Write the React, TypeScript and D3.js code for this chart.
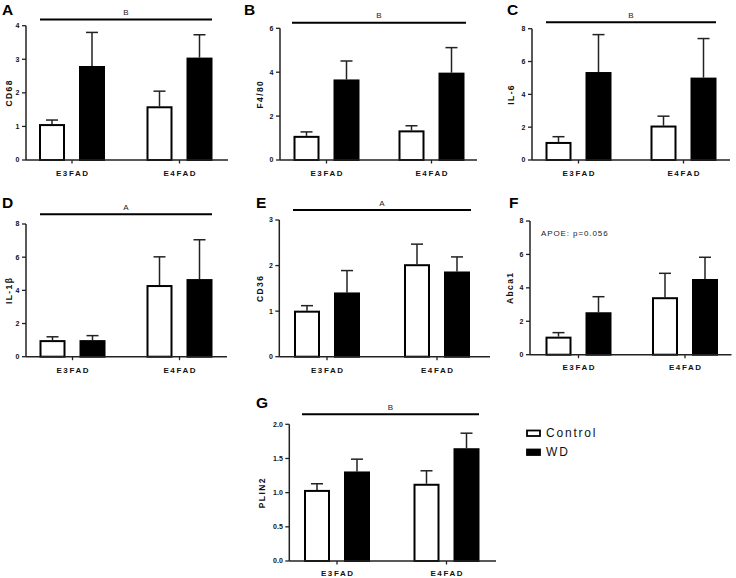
import React from "react";
import * as d3 from "d3";

const categories = ["E3FAD", "E4FAD"];
const groups = ["Control", "WD"];

// Panel A – CD68
const cd68Control = [1.07, 1.6];
const cd68ControlSem = [0.12, 0.45];
const cd68WD = [2.8, 3.05];
const cd68WDSem = [1.0, 0.68];
const cd68Ticks = [0, 1, 2, 3, 4];

// Panel B – F4/80
const f480Control = [1.1, 1.35];
const f480ControlSem = [0.18, 0.21];
const f480WD = [3.67, 3.98];
const f480WDSem = [0.84, 1.14];
const f480Ticks = [0, 2, 4, 6];

// Panel C – IL-6
const il6Control = [1.1, 2.1];
const il6ControlSem = [0.32, 0.57];
const il6WD = [5.36, 5.02];
const il6WDSem = [2.28, 2.38];
const il6Ticks = [0, 2, 4, 6, 8];

// Panel D – IL-1β
const il1bControl = [1.0, 4.32];
const il1bControlSem = [0.2, 1.7];
const il1bWD = [1.0, 4.68];
const il1bWDSem = [0.27, 2.37];
const il1bTicks = [0, 2, 4, 6, 8];

// Panel E – CD36
const cd36Control = [1.01, 2.03];
const cd36ControlSem = [0.11, 0.44];
const cd36WD = [1.41, 1.87];
const cd36WDSem = [0.48, 0.32];
const cd36Ticks = [0, 1, 2, 3];

// Panel F – Abca1
const abca1Control = [1.08, 3.44];
const abca1ControlSem = [0.24, 1.43];
const abca1WD = [2.54, 4.53];
const abca1WDSem = [0.93, 1.3];
const abca1Ticks = [0, 2, 4, 6, 8];

// Panel G – PLIN2
const plin2Control = [1.04, 1.13];
const plin2ControlSem = [0.09, 0.19];
const plin2WD = [1.31, 1.65];
const plin2WDSem = [0.18, 0.22];
const plin2Ticks = [0, 0.5, 1.0, 1.5, 2.0];

const FONT = "'Liberation Sans', Arial, Helvetica, sans-serif";

type PanelDef = {
  letter: string;
  ylabel: string;
  control: number[];
  controlSem: number[];
  wd: number[];
  wdSem: number[];
  ticks: number[];
  tickFmt: string;
  sig?: string;
  note?: string;
  ax: number;
  axRight: number;
  y0: number;
  yTop: number;
  c1: number;
  c2: number;
  sigY: number;
  sigX1: number;
  sigX2: number;
  letterX: number;
  letterY: number;
  ylabelX: number;
  xlabelY: number;
};

const panels: PanelDef[] = [
  {
    letter: "A", ylabel: "CD68", control: cd68Control, controlSem: cd68ControlSem,
    wd: cd68WD, wdSem: cd68WDSem, ticks: cd68Ticks, tickFmt: "d", sig: "B",
    ax: 26, axRight: 228, y0: 160, yTop: 25.7, c1: 72, c2: 179.5,
    sigY: 19.5, sigX1: 40, sigX2: 212, letterX: 2, letterY: 14.5, ylabelX: 9.5, xlabelY: 176,
  },
  {
    letter: "B", ylabel: "F4/80", control: f480Control, controlSem: f480ControlSem,
    wd: f480WD, wdSem: f480WDSem, ticks: f480Ticks, tickFmt: "d", sig: "B",
    ax: 280, axRight: 477, y0: 160, yTop: 28.3, c1: 326.5, c2: 431.5,
    sigY: 22.7, sigX1: 292, sigX2: 466, letterX: 244, letterY: 14.5, ylabelX: 260, xlabelY: 176,
  },
  {
    letter: "C", ylabel: "IL-6", control: il6Control, controlSem: il6ControlSem,
    wd: il6WD, wdSem: il6WDSem, ticks: il6Ticks, tickFmt: "d", sig: "B",
    ax: 532, axRight: 730, y0: 160, yTop: 28.7, c1: 578.5, c2: 683.5,
    sigY: 22.3, sigX1: 546, sigX2: 716, letterX: 507, letterY: 14.5, ylabelX: 511, xlabelY: 176,
  },
  {
    letter: "D", ylabel: "IL-1β", control: il1bControl, controlSem: il1bControlSem,
    wd: il1bWD, wdSem: il1bWDSem, ticks: il1bTicks, tickFmt: "d", sig: "A",
    ax: 26, axRight: 227, y0: 356.7, yTop: 224, c1: 72.5, c2: 179.5,
    sigY: 214.3, sigX1: 40, sigX2: 212, letterX: 2, letterY: 208, ylabelX: 9, xlabelY: 373,
  },
  {
    letter: "E", ylabel: "CD36", control: cd36Control, controlSem: cd36ControlSem,
    wd: cd36WD, wdSem: cd36WDSem, ticks: cd36Ticks, tickFmt: "d", sig: "A",
    ax: 279.3, axRight: 490, y0: 356.7, yTop: 220, c1: 327, c2: 437,
    sigY: 210, sigX1: 293, sigX2: 471, letterX: 256, letterY: 208, ylabelX: 260, xlabelY: 373,
  },
  {
    letter: "F", ylabel: "Abca1", control: abca1Control, controlSem: abca1ControlSem,
    wd: abca1WD, wdSem: abca1WDSem, ticks: abca1Ticks, tickFmt: "d",
    note: "APOE: p=0.056",
    ax: 530, axRight: 731.5, y0: 354.7, yTop: 221, c1: 578.5, c2: 685,
    sigY: 0, sigX1: 0, sigX2: 0, letterX: 509, letterY: 208, ylabelX: 510.5, xlabelY: 370,
  },
  {
    letter: "G", ylabel: "PLIN2", control: plin2Control, controlSem: plin2ControlSem,
    wd: plin2WD, wdSem: plin2WDSem, ticks: plin2Ticks, tickFmt: ".1f", sig: "B",
    ax: 289.3, axRight: 496, y0: 561, yTop: 424.3, c1: 337, c2: 446.5,
    sigY: 414.3, sigX1: 302, sigX2: 479, letterX: 256, letterY: 407.5, ylabelX: 262, xlabelY: 576,
  },
];

function Panel({ p }: { p: PanelDef }) {
  const ymax = p.ticks[p.ticks.length - 1];
  const y = d3.scaleLinear().domain([0, ymax]).range([p.y0, p.yTop]);
  const xg = d3.scalePoint<string>().domain(categories).range([p.c1, p.c2]);
  const xi = d3.scaleBand<string>().domain(groups).range([-33, 33]).paddingInner(0.35);
  const bw = xi.bandwidth();
  const fmt = d3.format(p.tickFmt);
  const series = [
    { g: "Control", vals: p.control, sem: p.controlSem, fill: "#ffffff" },
    { g: "WD", vals: p.wd, sem: p.wdSem, fill: "#000000" },
  ];
  const capW = 12;
  return (
    <g>
      <text x={p.letterX} y={p.letterY} fontFamily={FONT} fontWeight="bold" fontSize={15.5} fill="#000">
        {p.letter}
      </text>
      {p.sig && (
        <g>
          <line x1={p.sigX1} x2={p.sigX2} y1={p.sigY} y2={p.sigY} stroke="#000" strokeWidth={2} />
          <text x={(p.sigX1 + p.sigX2) / 2} y={p.sigY - 4.5} textAnchor="middle" fontFamily={FONT} fontSize={8} fill="#222">
            {p.sig}
          </text>
        </g>
      )}
      {p.note && (
        <text x={p.ax + 11} y={y(ymax) + 15} fontFamily={FONT} fontSize={8} letterSpacing={0.9} fill="#222">
          {p.note}
        </text>
      )}
      {series.map((s) =>
        categories.map((c, i) => {
          const cx = (xg(c) as number) + (xi(s.g) as number) + bw / 2;
          const top = y(s.vals[i]);
          const et = y(s.vals[i] + s.sem[i]);
          return (
            <g key={s.g + c}>
              <line x1={cx} x2={cx} y1={top} y2={et} stroke="#222" strokeWidth={1.5} />
              <line x1={cx - capW / 2} x2={cx + capW / 2} y1={et} y2={et} stroke="#222" strokeWidth={1.5} />
              <rect
                x={cx - bw / 2 + 1}
                y={top + 1}
                width={bw - 2}
                height={p.y0 - top - 1}
                fill={s.fill}
                stroke="#000"
                strokeWidth={2}
              />
            </g>
          );
        })
      )}
      <line x1={p.ax} x2={p.ax} y1={p.y0} y2={p.yTop} stroke="#222" strokeWidth={1.5} />
      {p.ticks.map((t) => (
        <g key={t}>
          <line x1={p.ax - 4} x2={p.ax} y1={y(t)} y2={y(t)} stroke="#222" strokeWidth={1.3} />
          <text x={p.ax - 6.5} y={y(t)} dy="0.35em" textAnchor="end" fontFamily={FONT} fontWeight="bold" fontSize={7} fill="#111">
            {fmt(t)}
          </text>
        </g>
      ))}
      <line x1={p.ax} x2={p.axRight} y1={p.y0} y2={p.y0} stroke="#222" strokeWidth={1.5} />
      {categories.map((c) => (
        <g key={c}>
          <line x1={xg(c)} x2={xg(c)} y1={p.y0} y2={p.y0 + 3.5} stroke="#222" strokeWidth={1.3} />
          <text x={(xg(c) as number) + 0.8} y={p.xlabelY} textAnchor="middle" fontFamily={FONT} fontWeight="bold" fontSize={8} letterSpacing={1.6} fill="#111">
            {c}
          </text>
        </g>
      ))}
      <text
        transform={`translate(${p.ylabelX},${(p.y0 + p.yTop) / 2}) rotate(-90)`}
        textAnchor="middle"
        dy="0.35em"
        fontFamily={FONT}
        fontWeight="bold"
        fontSize={8.5}
        letterSpacing={1.4}
        fill="#111"
      >
        {p.ylabel}
      </text>
    </g>
  );
}

export default function App() {
  const legendItems = groups.map((g, i) => ({ g, fill: i === 0 ? "#fff" : "#000" }));
  const ly = d3.scalePoint<string>().domain(groups).range([433, 452]);
  return (
    <svg width={736} height={578} style={{ position: "absolute", left: 0, top: 0, background: "#fff" }}>
      <rect width={736} height={578} fill="#fff" />
      {panels.map((p) => (
        <Panel key={p.letter} p={p} />
      ))}
      {legendItems.map((it) => (
        <g key={it.g}>
          <rect x={527} y={(ly(it.g) as number) - 2.5} width={13} height={5.5} fill={it.fill} stroke="#000" strokeWidth={1.8} />
          <text x={546} y={ly(it.g)} dy="0.36em" fontFamily={FONT} fontSize={12} letterSpacing={1.8} fill="#111">
            {it.g}
          </text>
        </g>
      ))}
    </svg>
  );
}
